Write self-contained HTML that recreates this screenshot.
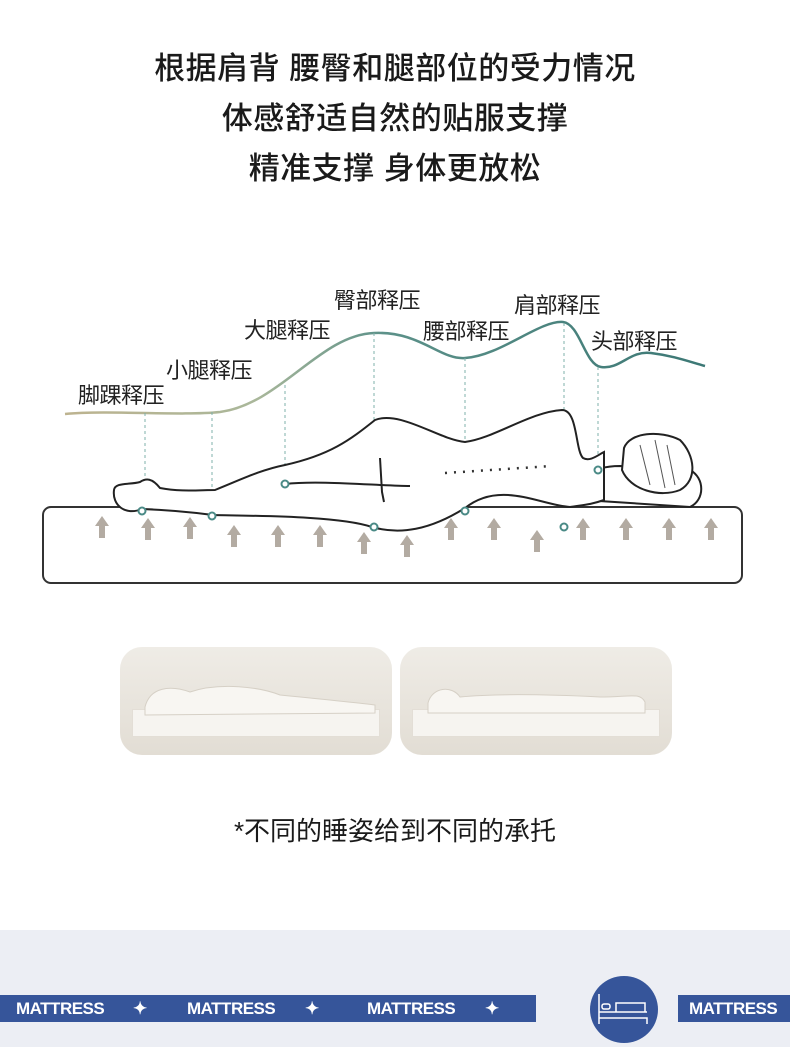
<!DOCTYPE html>
<html><head><meta charset="utf-8"><style>
body{margin:0;width:790px;height:1047px;background:#fff;position:relative;overflow:hidden;font-family:"Liberation Sans","Noto Sans CJK SC",sans-serif}
.t{position:absolute;left:0;width:790px;text-align:center;font-size:31px;color:#1a1a1a;font-weight:500;letter-spacing:0.5px}
.lab{position:absolute;font-size:22px;color:#222;white-space:nowrap;letter-spacing:-0.5px}
.thumb{position:absolute;top:647px;width:272px;height:108px;border-radius:22px;background:linear-gradient(180deg,#efece6,#e2ddd4)}
.thumb .m{position:absolute;left:12px;right:12px;top:62px;height:26px;background:#f6f4f0;border:1px solid #e3ded6}
.band{position:absolute;top:995px;height:27px;background:#36559a;color:#fff;font-weight:bold;font-size:17px;line-height:27px;letter-spacing:-0.5px}
.band span{position:absolute}
</style></head><body>
<div class="t" style="top:43px">根据肩背 腰臀和腿部位的受力情况</div>
<div class="t" style="top:93px">体感舒适自然的贴服支撑</div>
<div class="t" style="top:143px">精准支撑 身体更放松</div>

<div class="lab" style="left:78px;top:378px">脚踝释压</div>
<div class="lab" style="left:166px;top:353px">小腿释压</div>
<div class="lab" style="left:244px;top:313px">大腿释压</div>
<div class="lab" style="left:334px;top:283px">臀部释压</div>
<div class="lab" style="left:423px;top:314px">腰部释压</div>
<div class="lab" style="left:514px;top:288px">肩部释压</div>
<div class="lab" style="left:591px;top:324px">头部释压</div>

<svg style="position:absolute;left:0;top:0" width="790" height="620">
<defs><linearGradient id="g" x1="0" x2="1"><stop offset="0" stop-color="#bdb38f"/><stop offset="0.3" stop-color="#a9b79a"/><stop offset="0.5" stop-color="#5c9189"/><stop offset="1" stop-color="#3c7875"/></linearGradient>
<path id="a" d="M-7,0 L0,-10 L7,0 L3,0 L3,12 L-3,12 L-3,0 Z"/></defs>
<path d="M65,414 C110,410 180,416 220,412 C280,404 320,335 374,333 C420,331 440,360 465,358 C500,356 540,320 563,322 C580,324 585,365 601,367 C620,370 630,350 651,353 C675,356 690,362 705,366" fill="none" stroke="url(#g)" stroke-width="2.5"/>
<g stroke="#7fb0ab" stroke-width="1" stroke-dasharray="3,3">
<line x1="145" y1="413" x2="145" y2="508"/><line x1="212" y1="412" x2="212" y2="513"/><line x1="285" y1="385" x2="285" y2="481"/><line x1="374" y1="333" x2="374" y2="524"/><line x1="465" y1="358" x2="465" y2="508"/><line x1="564" y1="323" x2="564" y2="524"/><line x1="598" y1="367" x2="598" y2="467"/></g>
<rect x="43" y="507" width="699" height="76" rx="8" fill="#fff" stroke="#333" stroke-width="2"/>
<path d="M584,500 C578,480 590,466 620,466 L690,470 C705,478 705,500 690,507 Z" fill="#fff" stroke="#222" stroke-width="2"/>
<path d="M114,490 C115,482 130,485 140,482 C146,478 152,478 160,488 C180,492 200,490 215,490 C240,480 260,470 285,465 C330,455 350,440 375,420 C400,410 440,440 465,442 C495,438 530,412 562,410 C578,410 575,450 583,458 C590,462 598,455 604,452 L604,500 C590,505 582,505 570,507 C540,505 500,480 465,508 C430,530 400,535 372,527 C340,516 260,516 213,515 C190,512 170,510 142,509 C125,516 112,505 114,490 Z" fill="#fff" stroke="#222" stroke-width="2"/>
<path d="M285,484 C320,480 380,486 410,486" fill="none" stroke="#222" stroke-width="2"/>
<path d="M380,458 L382,492 L384,502" fill="none" stroke="#222" stroke-width="2"/>
<path d="M624,448 C630,432 660,430 680,440 C695,455 698,480 680,490 C660,498 630,490 622,470 Z" fill="#fff" stroke="#222" stroke-width="2"/>
<path d="M640,445 L650,485 M655,440 L665,488 M667,445 L675,485" stroke="#555" stroke-width="1" fill="none"/>
<line x1="445" y1="473" x2="552" y2="466" stroke="#333" stroke-width="2.5" stroke-dasharray="2,7"/>
<g fill="#b3aba2">
<use href="#a" x="102" y="526"/><use href="#a" x="148" y="528"/><use href="#a" x="190" y="527"/><use href="#a" x="234" y="535"/><use href="#a" x="278" y="535"/><use href="#a" x="320" y="535"/><use href="#a" x="364" y="542"/><use href="#a" x="407" y="545"/><use href="#a" x="451" y="528"/><use href="#a" x="494" y="528"/><use href="#a" x="537" y="540"/><use href="#a" x="583" y="528"/><use href="#a" x="626" y="528"/><use href="#a" x="669" y="528"/><use href="#a" x="711" y="528"/>
</g>
<g fill="#fff" stroke="#4a8a86" stroke-width="2">
<circle cx="142" cy="511" r="3.5"/><circle cx="212" cy="516" r="3.5"/><circle cx="285" cy="484" r="3.5"/><circle cx="374" cy="527" r="3.5"/><circle cx="465" cy="511" r="3.5"/><circle cx="564" cy="527" r="3.5"/><circle cx="598" cy="470" r="3.5"/>
</g>
</svg>

<div class="thumb" style="left:120px"><div class="m"></div>
<svg width="272" height="108" style="position:absolute;left:0;top:0"><path d="M25,60 C30,40 50,38 70,45 C100,35 140,40 160,48 C200,52 240,56 255,58 L255,66 L25,68 Z" fill="#f8f6f2" stroke="#d6d0c6"/></svg></div>
<div class="thumb" style="left:400px"><div class="m"></div>
<svg width="272" height="108" style="position:absolute;left:0;top:0"><path d="M28,56 C32,40 52,38 60,50 C100,46 160,48 200,50 C230,50 240,45 245,55 L245,66 L28,66 Z" fill="#f8f6f2" stroke="#d6d0c6"/></svg></div>

<div style="position:absolute;left:0;width:790px;top:811px;text-align:center;font-size:26px;color:#1a1a1a">*不同的睡姿给到不同的承托</div>

<div style="position:absolute;left:0;top:930px;width:790px;height:117px;background:#eceef4"></div>
<div class="band" style="left:0;width:536px">
<span style="left:16px">MATTRESS</span><span style="left:133px">✦</span>
<span style="left:187px">MATTRESS</span><span style="left:305px">✦</span>
<span style="left:367px">MATTRESS</span><span style="left:485px">✦</span></div>
<div class="band" style="left:678px;width:112px"><span style="left:11px">MATTRESS</span></div>
<div style="position:absolute;left:590px;top:976px;width:68px;height:67px;border-radius:50%;background:#36559a"></div>
<svg style="position:absolute;left:590px;top:976px" width="68" height="67"><g fill="none" stroke="#fff" stroke-width="1.5"><path d="M9,18 L9,48 M9,42 L57,42 L57,48 M9,36 L57,36 M26,36 L26,27 L55,27 L55,36"/><rect x="12" y="28" width="8" height="5" rx="2"/></g></svg>
</body></html>
